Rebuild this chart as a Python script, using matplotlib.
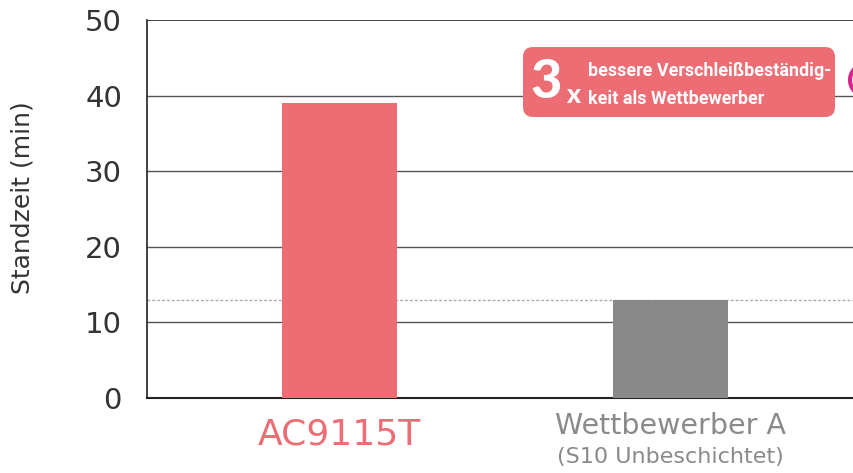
import matplotlib
matplotlib.use("Agg")
import matplotlib.pyplot as plt
from matplotlib.patches import FancyBboxPatch, Circle
from matplotlib.transforms import IdentityTransform

categories = ["AC9115T", "Wettbewerber A"]
subtitles = ["", "(S10 Unbeschichtet)"]
values = [39, 13]
bar_colors = ["#EC6D74", "#898989"]
label_colors = ["#EC6D74", "#8A8A8A"]
yticks = [0, 10, 20, 30, 40, 50]
ref_value = 13
ylabel = "Standzeit (min)"
badge_big = "3"
badge_x = "x"
badge_lines = ["bessere Verschleißbeständig-", "keit als Wettbewerber"]

plt.rcParams['font.family'] = ['DejaVu Sans']

fig = plt.figure(figsize=(8.54, 4.73), dpi=100)
ax = fig.add_axes([147/854, 1-398/473, 1-147/854, (398-20)/473])

xpos = list(range(len(categories)))
ax.bar(xpos, values, width=0.347, color=bar_colors, zorder=3)
ax.set_xlim(-0.5816, 1.554)
ax.set_ylim(0, 50)
ax.set_yticks(yticks)
ax.set_yticklabels([str(t) for t in yticks], fontsize=21, color="#333333")
ax.tick_params(axis='y', length=0, pad=18)
ax.tick_params(axis='x', length=0)
ax.set_xticks([])
for t in yticks[1:-1]:
    ax.axhline(t, color="#555555", lw=1.0, zorder=1)
ax.axhline(50, color="#222222", lw=1.2, zorder=1)
ax.axhline(ref_value, color="#AAAAAA", lw=1.0, ls=(0, (2, 1.5)), zorder=2)
for s in ["top", "right"]:
    ax.spines[s].set_visible(False)
ax.spines["left"].set_color("#222222")
ax.spines["bottom"].set_color("#222222")
ax.spines["left"].set_linewidth(1.2)
ax.spines["bottom"].set_linewidth(1.5)

ax.set_ylabel(ylabel, fontsize=18, color="#333333", va="center")
ax.yaxis.set_label_coords((23-147)/707, 0.53)

# category labels
ax.text(xpos[0], -2.6, categories[0], ha="center", va="top", fontsize=26,
        color=label_colors[0], transform=ax.transData, clip_on=False)
ax.text(xpos[1], -1.8, categories[1], ha="center", va="top", fontsize=20.5,
        color=label_colors[1], transform=ax.transData, clip_on=False)
ax.text(xpos[1], -6.5, subtitles[1], ha="center", va="top", fontsize=16,
        color=label_colors[1], transform=ax.transData, clip_on=False)

# badge (figure pixel coordinates)
H = 473
tr = IdentityTransform()
box = FancyBboxPatch((523, H-117), 312, 70, boxstyle="round,pad=0,rounding_size=10",
                     facecolor="#EC6D74", edgecolor="none", transform=tr, zorder=1)
fig.patches.append(box)
fig.text(530/854, 1-98/H, badge_big, fontsize=39, fontweight="black", color="white",
         ha="left", va="baseline", fontfamily="Lato", zorder=5)
fig.text(566/854, 1-103/H, badge_x, fontsize=19, fontweight="black", color="white",
         ha="left", va="baseline", fontfamily="Lato", zorder=5)
fig.text(588/854, 1-76/H, badge_lines[0], fontsize=12.9, fontweight="bold", color="white",
         ha="left", va="baseline", fontfamily="Roboto", zorder=5)
fig.text(588/854, 1-104/H, badge_lines[1], fontsize=12.9, fontweight="bold", color="white",
         ha="left", va="baseline", fontfamily="Roboto", zorder=5)

# partial magenta mark at right edge
circ = Circle((866, H-80), 16, facecolor="none", edgecolor="#D6268B", lw=3, transform=tr)
fig.patches.append(circ)

fig.savefig("out.png", dpi=100)
